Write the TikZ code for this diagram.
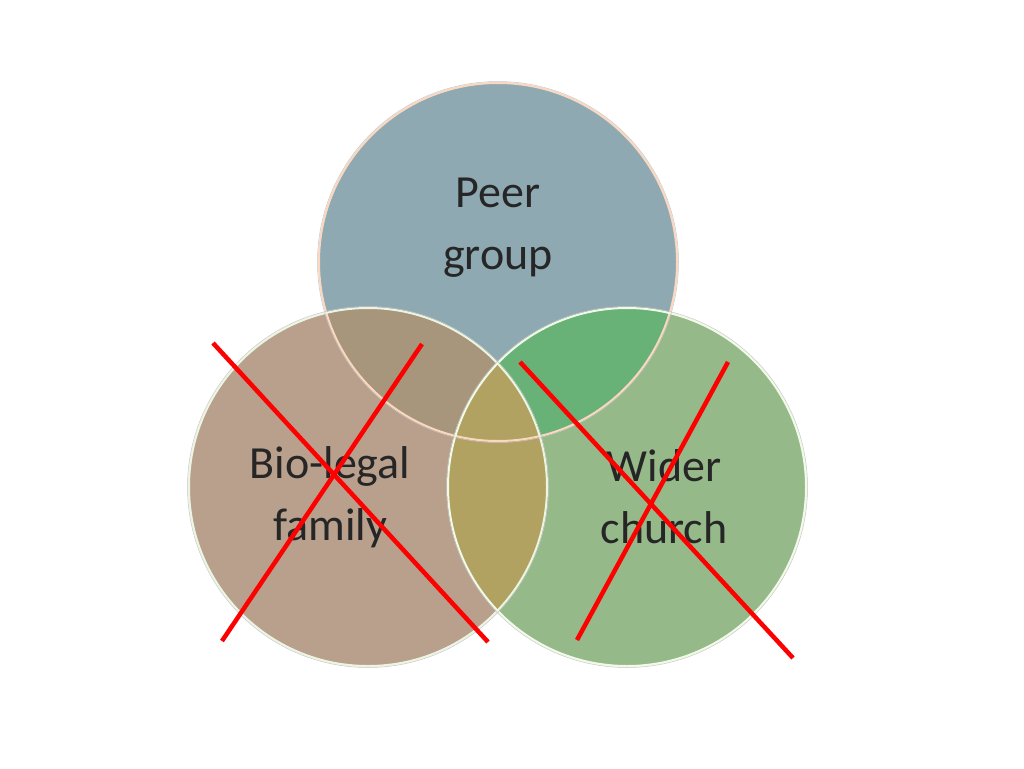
\documentclass[tikz,border=0pt]{standalone}
\usepackage{fontspec}
\setmainfont{Carlito}
\begin{document}
\begin{tikzpicture}[x=1pt,y=-1pt,
  lbl/.style={font=\fontsize{46}{62}\selectfont,align=center,text=black!85},
  cross/.style={draw=red,line width=4.5pt}]
\useasboundingbox (0,0) rectangle (1024,768);
\fill[white] (0,0) rectangle (1024,768);
\coordinate (T) at (498,262);
\coordinate (L) at (368,487);
\coordinate (R) at (627,487);
\def\r{179}
\fill[color={rgb,255:red,142;green,169;blue,178}] (T) circle (\r);
\fill[color={rgb,255:red,184;green,160;blue,140}] (L) circle (\r);
\fill[color={rgb,255:red,150;green,185;blue,138}] (R) circle (\r);
\begin{scope}\clip (T) circle (\r);
  \fill[color={rgb,255:red,168;green,150;blue,124}] (L) circle (\r);
  \fill[color={rgb,255:red,104;green,178;blue,120}] (R) circle (\r);
\end{scope}
\begin{scope}\clip (L) circle (\r);
  \fill[color={rgb,255:red,178;green,162;blue,98}] (R) circle (\r);
\end{scope}
\draw[color={rgb,255:red,250;green,215;blue,190},line width=2pt] (T) circle (\r);
\draw[color={rgb,255:red,235;green,245;blue,225},line width=2pt] (L) circle (\r);
\draw[color={rgb,255:red,240;green,250;blue,230},line width=2pt] (R) circle (\r);
\foreach \c in {T,L,R} \draw[gray!45,line width=0.5pt] (\c) circle (\r+1.5);
\node[lbl] (tp) at (498,228) {Peer\\group};
\node[lbl] (lf) at (330,497) {Bio-legal\\family};
\node[lbl] (rc) at (664,497) {Wider\\church};
\coordinate (a1) at (213,343); \coordinate (a2) at (488,642);
\coordinate (b1) at (422,344); \coordinate (b2) at (222,641);
\coordinate (c1) at (520,362); \coordinate (c2) at (793,658);
\coordinate (d1) at (728,362); \coordinate (d2) at (577,640);
\draw[cross] (a1) -- (a2); \draw[cross] (b1) -- (b2);
\draw[cross] (c1) -- (c2); \draw[cross] (d1) -- (d2);
\end{tikzpicture}
\end{document}
